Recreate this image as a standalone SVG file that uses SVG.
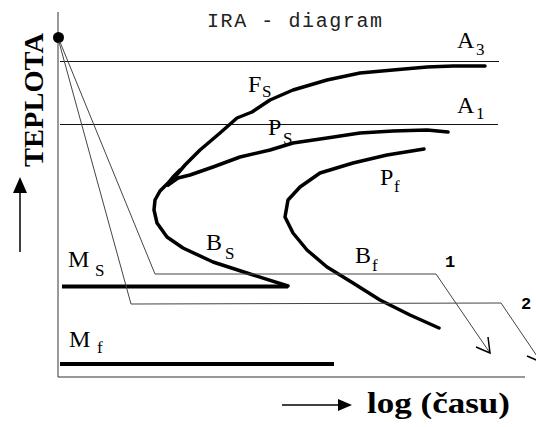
<svg xmlns="http://www.w3.org/2000/svg" width="536" height="427" viewBox="0 0 536 427">
<style>
.lbl{font-family:"Liberation Serif","Times New Roman",serif;font-size:24px;fill:#000}
.sub{font-family:"Liberation Serif","Times New Roman",serif;font-size:17px;fill:#000}
.num{font-family:"Liberation Mono","Courier New",monospace;font-weight:bold;font-size:17px;fill:#000}
.curve{fill:none;stroke:#000;stroke-width:3.5;stroke-linejoin:round;stroke-linecap:round}
.thin{fill:none;stroke:#444;stroke-width:1}
.ref{fill:none;stroke:#111;stroke-width:1.2}
.thick{stroke:#000;stroke-width:4}
</style>
<rect width="536" height="427" fill="#fff"/>
<g id="axes">
<line x1="58" y1="12" x2="58" y2="377" stroke="#777" stroke-width="1.5"/>
<line x1="58" y1="377" x2="525" y2="377" stroke="#333" stroke-width="1.2"/>
<circle cx="58.5" cy="37.5" r="5.5" fill="#000"/>
</g>
<g id="title"><text x="207" y="27" font-family="Liberation Mono,'Courier New',monospace" font-size="20" fill="#222" textLength="175" lengthAdjust="spacing">IRA - diagram</text></g>
<g id="ylabel">
<text transform="translate(43,100) rotate(-90)" text-anchor="middle" font-family="Liberation Serif,'Times New Roman',serif" font-weight="bold" font-size="27" textLength="134" lengthAdjust="spacingAndGlyphs">TEPLOTA</text>
<line x1="20" y1="190" x2="20" y2="252" stroke="#000" stroke-width="1.5"/>
<polygon points="20,177 13,193 27,193" fill="#000"/>
</g>
<g id="xlabel">
<line x1="282" y1="405" x2="340" y2="405" stroke="#000" stroke-width="1.5"/>
<polygon points="352,405 338,399 338,411" fill="#000"/>
<text x="367" y="413" font-family="Liberation Serif,'Times New Roman',serif" font-weight="bold" font-size="30" textLength="143" lengthAdjust="spacingAndGlyphs">log (času)</text>
</g>
<g id="A3"><line class="ref" x1="60" y1="61.5" x2="499" y2="61.5"/><text class="lbl" x="457" y="48">A</text><text class="sub" x="476" y="55">3</text></g>
<g id="A1"><line class="ref" x1="60" y1="124.5" x2="498" y2="124.5"/><text class="lbl" x="457" y="113">A</text><text class="sub" x="476" y="119">1</text></g>
<g id="Fs"><path class="curve" d="M168,185 L185,165 L200,150 L220,133 L237,118 L252,112 L270,100 L293,90 L327,80 L360,73 L393,70 L427,67 L453,66 L485,66"/><text class="lbl" x="248" y="92">F</text><text class="sub" x="262" y="97">S</text></g>
<g id="Ps"><path class="curve" d="M168,185 L178,178 L190,175 L213,167 L240,157 L270,150 L293,143 L327,138 L360,133 L393,131 L427,130 L448,132"/><text class="lbl" x="268" y="135">P</text><text class="sub" x="283" y="144">S</text></g>
<g id="Bs"><path class="curve" d="M180,170 L173,177 L168,183 L160,191 L155,200 L154,210 L157,223 L167,237 L183,248 L213,262 L247,273 L288,286"/><text class="lbl" x="206" y="250">B</text><text class="sub" x="225" y="259">S</text></g>
<g id="PfBf"><path class="curve" d="M424,149 L387,155 L353,163 L320,173 L300,187 L288,200 L285,217 L293,233 L307,250 L327,267 L353,283 L380,300 L410,315 L439,328"/><text class="lbl" x="380" y="185">P</text><text class="sub" x="394" y="192">f</text><text class="lbl" x="355" y="263">B</text><text class="sub" x="372" y="271">f</text></g>
<g id="Ms"><line class="thick" x1="62" y1="286.5" x2="288" y2="286.5"/><text class="lbl" x="68" y="267">M</text><text class="sub" x="95" y="276">S</text></g>
<g id="Mf"><line class="thick" x1="60" y1="364" x2="334" y2="364"/><text class="lbl" x="69" y="347">M</text><text class="sub" x="97" y="353">f</text></g>
<g id="connectors">
<path class="thin" d="M60,42 L155,274 L436,274 L490,353"/>
<path fill="none" stroke="#000" stroke-width="1.5" d="M476,347 L490,353 L488,337"/>
<path class="thin" d="M59,42 L131,304 L501,303 L541,362"/>
<path fill="none" stroke="#000" stroke-width="1.5" d="M527,356 L541,362 L539,346"/>
<text class="num" x="445" y="267">1</text>
<text class="num" x="521" y="309">2</text>
</g>
</svg>
